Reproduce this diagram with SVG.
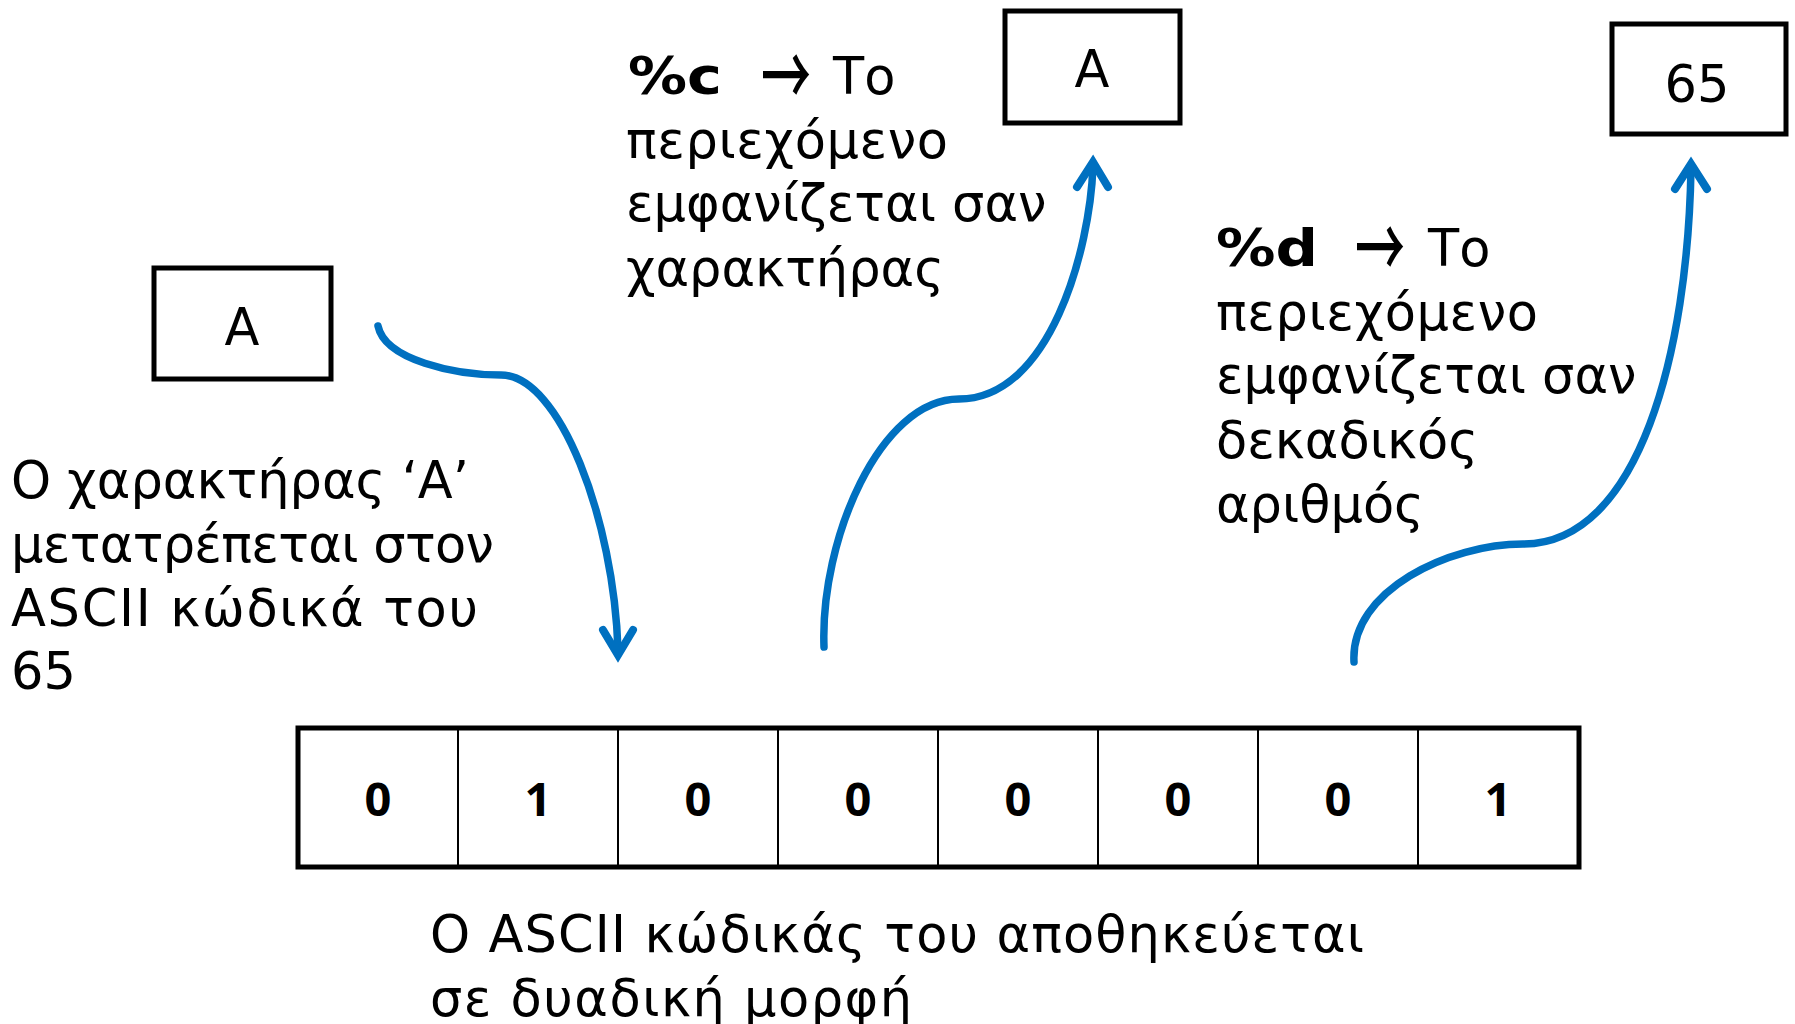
<svg xmlns="http://www.w3.org/2000/svg" width="1795" height="1024" viewBox="0 0 1795 1024">
  <style>
    .box { fill: #fff; stroke: #000; stroke-width: 5; }
    .cell { fill: none; stroke: #000; stroke-width: 2; }
    .t { font-family: "DejaVu Sans", Verdana, sans-serif; font-size: 51px; fill: #000; }
    .b { font-weight: bold; }
    .arr { font-family: "Noto Sans CJK SC", sans-serif; font-size: 50px; font-weight: 500; }
    .bit { font-family: "Open Sans", "Liberation Sans", sans-serif; font-weight: bold; font-size: 47px; text-anchor: middle; }
    .mid { text-anchor: middle; }
    .link { fill: none; stroke: #0070C0; stroke-width: 7.5; stroke-linecap: round; stroke-linejoin: round; }
    .head { fill: none; stroke: #0070C0; stroke-width: 8; stroke-linecap: round; stroke-linejoin: miter; stroke-miterlimit: 10; }
  </style>

  <!-- character node -->
  <g id="node-char">
    <rect class="box" x="154" y="268" width="177" height="111"/>
    <text class="t mid" x="242" y="345">A</text>
  </g>

  <!-- explanation of the conversion -->
  <g id="note-convert">
    <text class="t" x="11" y="498">Ο χαρακτήρας ‘A’</text>
    <text class="t" x="11" y="562" textLength="483">μετατρέπεται στον</text>
    <text class="t" x="11" y="626" textLength="467">ASCII κώδικά του</text>
    <text class="t" x="11" y="689">65</text>
  </g>

  <!-- %c output node -->
  <g id="node-out-char">
    <rect class="box" x="1005" y="11" width="175" height="112"/>
    <text class="t mid" x="1092" y="87">A</text>
  </g>
  <g id="note-c">
    <text class="t b" x="628" y="94" textLength="94" lengthAdjust="spacingAndGlyphs">%c</text>
    <text class="arr" transform="translate(761,107) scale(1,1.7)">→</text>
    <text class="t" x="833" y="94">Το</text>
    <text class="t" x="626" y="158" textLength="322">περιεχόμενο</text>
    <text class="t" x="626" y="221">εμφανίζεται σαν</text>
    <text class="t" x="626" y="286">χαρακτήρας</text>
  </g>

  <!-- %d output node -->
  <g id="node-out-dec">
    <rect class="box" x="1612" y="24" width="174" height="110"/>
    <text class="t mid" x="1697" y="102">65</text>
  </g>
  <g id="note-d">
    <text class="t b" x="1216" y="266" textLength="102" lengthAdjust="spacingAndGlyphs">%d</text>
    <text class="arr" transform="translate(1355,279) scale(1,1.7)">→</text>
    <text class="t" x="1428" y="266">Το</text>
    <text class="t" x="1216" y="330" textLength="322">περιεχόμενο</text>
    <text class="t" x="1216" y="393">εμφανίζεται σαν</text>
    <text class="t" x="1216" y="458">δεκαδικός</text>
    <text class="t" x="1216" y="522">αριθμός</text>
  </g>

  <!-- memory byte: 01000001 -->
  <g id="node-byte">
    <rect class="box" x="298" y="728" width="1281" height="139"/>
    <line class="cell" x1="458" y1="728" x2="458" y2="867"/>
    <line class="cell" x1="618" y1="728" x2="618" y2="867"/>
    <line class="cell" x1="778" y1="728" x2="778" y2="867"/>
    <line class="cell" x1="938" y1="728" x2="938" y2="867"/>
    <line class="cell" x1="1098" y1="728" x2="1098" y2="867"/>
    <line class="cell" x1="1258" y1="728" x2="1258" y2="867"/>
    <line class="cell" x1="1418" y1="728" x2="1418" y2="867"/>
    <text class="bit" x="378" y="816">0</text>
    <text class="bit" x="538" y="816">1</text>
    <text class="bit" x="698" y="816">0</text>
    <text class="bit" x="858" y="816">0</text>
    <text class="bit" x="1018" y="816">0</text>
    <text class="bit" x="1178" y="816">0</text>
    <text class="bit" x="1338" y="816">0</text>
    <text class="bit" x="1498" y="816">1</text>
  </g>
  <g id="note-byte">
    <text class="t" x="430" y="952" textLength="934">Ο ASCII κώδικάς του αποθηκεύεται</text>
    <text class="t" x="430" y="1016" textLength="482">σε δυαδική μορφή</text>
  </g>

  <!-- connectors -->
  <g id="connectors">
    <path class="link" d="M378,326 C385,360 455,375 501,375 C560,375 614,520 618,650"/>
    <polyline class="head" points="603,630 618,655 633,630"/>

    <path class="link" d="M824,647 C820,540 880,399 959,399 C1050,399 1090,250 1093,166"/>
    <polyline class="head" points="1077,187 1093,162 1108,187"/>

    <path class="link" d="M1354,662 C1350,590 1450,544 1523,544 C1640,544 1688,350 1691,168"/>
    <polyline class="head" points="1675,189 1691,164 1707,189"/>
  </g>
</svg>
